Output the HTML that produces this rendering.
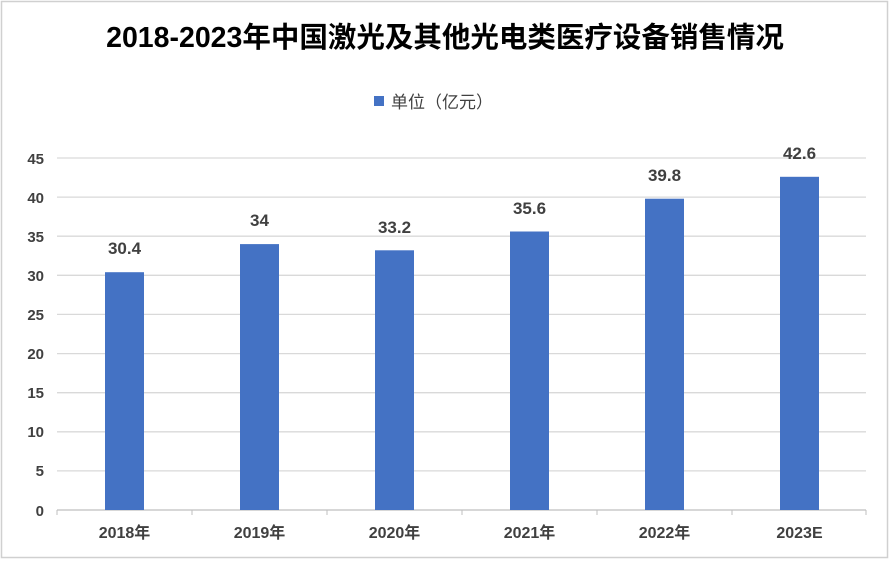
<!DOCTYPE html><html><head><meta charset="utf-8"><style>body{margin:0;background:#fff}</style></head><body>
<svg width="890" height="561" xmlns="http://www.w3.org/2000/svg" font-family="Liberation Sans, Noto Sans CJK SC, sans-serif">
<rect x="1.5" y="1.5" width="886" height="556" fill="#fff" stroke="#d0d0d0" stroke-width="1.5"/>
<text x="445" y="47" text-anchor="middle" font-size="28.5" font-weight="bold" fill="#000">2018-2023年中国激光及其他光电类医疗设备销售情况</text>
<rect x="374" y="96" width="10" height="10" fill="#4472C4"/>
<text x="391" y="108" font-size="17" fill="#404040">单位（亿元）</text>
<g stroke="#d9d9d9" stroke-width="1.3">
<line x1="57" x2="866" y1="158" y2="158"/><line x1="57" x2="866" y1="197.1" y2="197.1"/><line x1="57" x2="866" y1="236.2" y2="236.2"/><line x1="57" x2="866" y1="275.3" y2="275.3"/><line x1="57" x2="866" y1="314.4" y2="314.4"/><line x1="57" x2="866" y1="353.6" y2="353.6"/><line x1="57" x2="866" y1="392.7" y2="392.7"/><line x1="57" x2="866" y1="431.8" y2="431.8"/><line x1="57" x2="866" y1="470.9" y2="470.9"/>
</g>
<line x1="57" x2="866" y1="510" y2="510" stroke="#bfbfbf" stroke-width="1.3"/>
<g stroke="#bfbfbf"><line x1="57" x2="57" y1="510" y2="515"/><line x1="192" x2="192" y1="510" y2="515"/><line x1="327" x2="327" y1="510" y2="515"/><line x1="462" x2="462" y1="510" y2="515"/><line x1="597" x2="597" y1="510" y2="515"/><line x1="732" x2="732" y1="510" y2="515"/><line x1="866" x2="866" y1="510" y2="515"/></g>
<g font-size="15" font-weight="bold" fill="#404040" text-anchor="end">
<text x="44" y="164">45</text><text x="44" y="203">40</text><text x="44" y="242">35</text><text x="44" y="281">30</text><text x="44" y="320">25</text><text x="44" y="359">20</text><text x="44" y="398">15</text><text x="44" y="437">10</text><text x="44" y="476">5</text><text x="44" y="516">0</text>
</g>
<g fill="#4472C4">
<rect x="105" y="272.2" width="39" height="237.8"/>
<rect x="240" y="244.1" width="39" height="265.9"/>
<rect x="375" y="250.3" width="39" height="259.7"/>
<rect x="510" y="231.5" width="39" height="278.5"/>
<rect x="645" y="198.7" width="39" height="311.3"/>
<rect x="780" y="176.8" width="39" height="333.2"/>
</g>
<g font-size="17" font-weight="bold" fill="#404040" text-anchor="middle">
<text x="124.5" y="254">30.4</text><text x="259.5" y="226">34</text><text x="394.5" y="233">33.2</text><text x="529.5" y="214">35.6</text><text x="664.5" y="181">39.8</text><text x="799.5" y="159">42.6</text>
</g>
<g font-size="16" font-weight="bold" fill="#404040" text-anchor="middle">
<text x="124.5" y="538">2018年</text><text x="259.5" y="538">2019年</text><text x="394.5" y="538">2020年</text><text x="529.5" y="538">2021年</text><text x="664.5" y="538">2022年</text><text x="799.5" y="538">2023E</text>
</g>
</svg></body></html>
